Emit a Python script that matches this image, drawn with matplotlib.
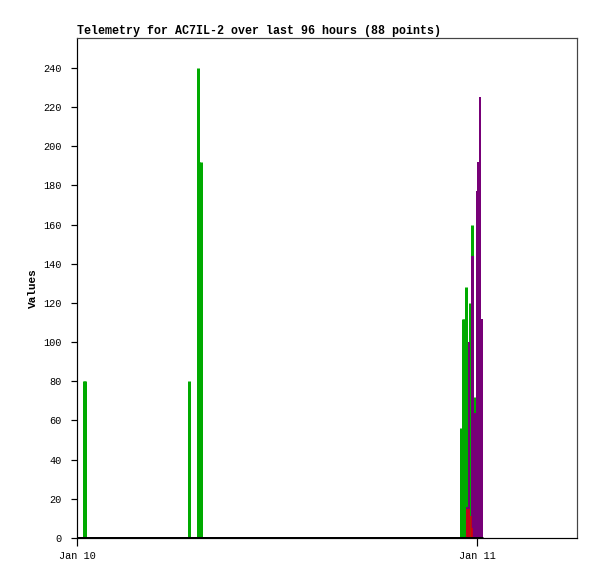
import matplotlib

matplotlib.use("Agg")
import matplotlib.pyplot as plt
import matplotlib.dates as mdates
import numpy as np

# hours after Jan 10 00:00, value
green_hours = [0.40, 0.48, 6.74, 7.24, 7.30, 7.43, 23.06, 23.18, 23.24, 23.33,
               23.59, 23.69, 23.84, 24.00]
green_vals = [80, 80, 80, 240, 192, 192, 56, 112, 112, 128, 120, 160, 72, 176]

purple_hours = [23.42, 23.55, 23.68, 23.77, 23.90, 23.99, 24.09, 24.17, 24.25, 24.32]
purple_vals = [16, 100, 144, 144, 64, 177, 192, 225, 112, 112]

red_hours = [23.42, 23.52, 23.63, 23.68]
red_vals = [15, 15, 11, 5]

title = "Telemetry for AC7IL-2 over last 96 hours (88 points)"
start = np.datetime64("2025-01-10T00:00")
span_hours = 30
y_max = 255.3
y_ticks = list(range(0, 241, 20))

PX = 0.72  # one pixel in points at dpi 100


def to_time(hours):
    return start + (np.asarray(hours) * 60).round().astype("timedelta64[m]")


plt.rcParams["font.family"] = ["Liberation Mono", "DejaVu Sans Mono"]

fig = plt.figure(figsize=(5.97, 5.79), dpi=100)
ax = fig.add_axes([77 / 597, 1 - 538 / 579, 500 / 597, 500 / 579])

series = [
    (green_hours, green_vals, "#00aa00", 3.0),
    (purple_hours, purple_vals, "#770077", 2.0),
    (red_hours, red_vals, "#dd0000", 1.5),
]
for hours, vals, color, width in series:
    ax.vlines(to_time(hours), 0, vals, colors=color, linewidth=width * PX, zorder=2)

last = max(max(green_hours), max(purple_hours), max(red_hours)) + 0.05
ax.plot(to_time([0, last]), [0, 0], color="black", linewidth=3 * PX,
        solid_capstyle="butt", zorder=3)

ax.set_xlim(to_time([0, span_hours]))
ax.set_ylim(0, y_max)
ax.set_yticks(y_ticks)
ax.xaxis.set_major_locator(mdates.DayLocator())
ax.xaxis.set_major_formatter(mdates.DateFormatter("%b %d"))

ax.tick_params(axis="y", direction="out", length=6 * PX, width=1.2 * PX,
               pad=9 * PX, labelsize=7.4)
ax.tick_params(axis="x", direction="out", length=8 * PX, width=1.2 * PX,
               pad=5 * PX, labelsize=7.4)

for side in ("left", "bottom"):
    ax.spines[side].set_color("black")
    ax.spines[side].set_linewidth(1.2 * PX)
for side in ("top", "right"):
    ax.spines[side].set_color("#444444")
    ax.spines[side].set_linewidth(1.2 * PX)

ax.set_ylabel("Values", fontsize=8, fontweight="bold", labelpad=4)
ax.set_title(title, loc="left", fontsize=8.4, fontweight="bold", pad=3)

fig.savefig("out.png", dpi=100)
